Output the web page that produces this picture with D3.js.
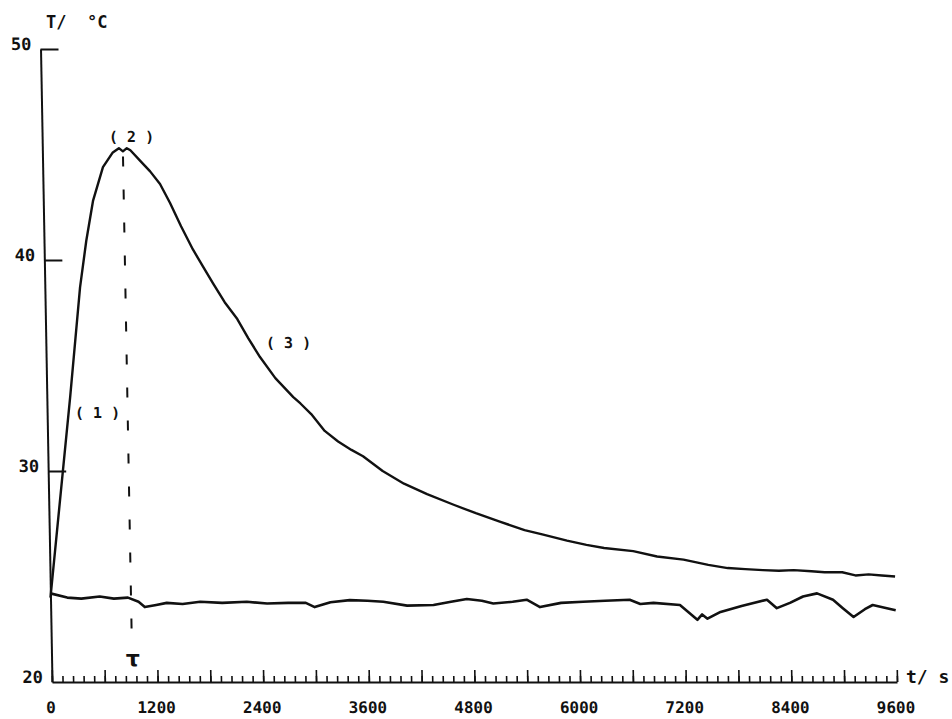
<!DOCTYPE html>
<html>
<head>
<meta charset="utf-8">
<script src="https://cdn.jsdelivr.net/npm/d3@7"></script>
<style>
  body { margin: 0; background: #fff; }
  text { fill: #111; }
</style>
</head>
<body>
<div id="chart"></div>
<script>
// upper curve: heating (1), peak (2), cooling (3)
let upperTime = [0, 170, 265, 400, 480, 565, 685, 800, 870, 915, 960, 1000, 1110, 1220, 1330, 1440, 1560, 1690, 1800, 1910, 2040, 2180, 2300, 2430, 2600, 2800, 2880, 3000, 3150, 3300, 3450, 3580, 3800, 4040, 4300, 4600, 4850, 5120, 5400, 5600, 5880, 6100, 6300, 6630, 6900, 7200, 7480, 7700, 7900, 8100, 8280, 8450, 8650, 8800, 9000, 9150, 9300, 9450, 9600];
let upperTemp = [24.0, 30.1, 33.5, 38.7, 40.9, 42.8, 44.4, 45.1, 45.3, 45.15, 45.3, 45.2, 44.7, 44.2, 43.6, 42.7, 41.6, 40.5, 39.7, 38.9, 38.0, 37.2, 36.3, 35.4, 34.4, 33.5, 33.2, 32.7, 31.9, 31.4, 31.0, 30.7, 30.0, 29.4, 28.9, 28.4, 28.0, 27.6, 27.2, 27.0, 26.7, 26.5, 26.35, 26.2, 25.95, 25.8, 25.55, 25.4, 25.35, 25.3, 25.27, 25.3, 25.25, 25.2, 25.2, 25.05, 25.1, 25.05, 25.0];

// lower curve: ambient
let lowerTime = [0, 190, 350, 560, 720, 880, 1000, 1070, 1200, 1320, 1500, 1700, 1950, 2230, 2460, 2700, 2900, 3000, 3180, 3400, 3600, 3780, 4050, 4350, 4550, 4730, 4900, 5030, 5250, 5410, 5560, 5800, 6050, 6300, 6580, 6700, 6850, 7150, 7345, 7400, 7460, 7610, 7850, 8140, 8250, 8400, 8550, 8710, 8890, 9000, 9120, 9250, 9340, 9500, 9600];
let lowerTemp = [24.2, 24.0, 23.95, 24.05, 23.95, 24.0, 23.8, 23.55, 23.65, 23.75, 23.7, 23.8, 23.75, 23.8, 23.72, 23.75, 23.75, 23.55, 23.78, 23.88, 23.85, 23.8, 23.62, 23.65, 23.8, 23.93, 23.85, 23.72, 23.8, 23.9, 23.55, 23.75, 23.8, 23.85, 23.9, 23.7, 23.75, 23.65, 22.95, 23.2, 23.0, 23.32, 23.6, 23.9, 23.5, 23.75, 24.05, 24.2, 23.9, 23.5, 23.08, 23.45, 23.65, 23.5, 23.4];

let xTickLabels = [0, 1200, 2400, 3600, 4800, 6000, 7200, 8400, 9600];
let yTickLabels = [20, 30, 40, 50];

let tau = 915;
let annoText = ["( 1 )", "( 2 )", "( 3 )"];
let annoTime = [573, 1016, 2757];
let annoTemp = [32.75, 45.83, 36.1];

let width = 952, height = 719;

let svg = d3.select("#chart").append("svg")
    .attr("width", width)
    .attr("height", height)
    .style("background", "#fff");

let x = d3.scaleLinear().domain([0, 9600]).range([52, 897]);
let y = d3.scaleLinear().domain([20, 50]).range([682, 49]);

// the scanned plot leans a little: skew everything about the time axis
let g = svg.append("g")
    .attr("transform", "translate(0," + y(20) + ") skewX(1.04) translate(0," + (-y(20)) + ")");

// x axis: minor ticks every 120 s, taller every 600 s
let xMinor = g.append("g")
    .attr("transform", "translate(0," + y(20) + ")")
    .call(d3.axisTop(x).tickValues(d3.range(0, 9601, 120)).tickSize(6).tickSizeOuter(0).tickFormat(""));
xMinor.select(".domain").attr("stroke", "#111").attr("stroke-width", 2);
xMinor.selectAll(".tick line").attr("stroke", "#111").attr("stroke-width", 1.6);

let xMajor = g.append("g")
    .attr("transform", "translate(0," + y(20) + ")")
    .call(d3.axisTop(x).tickValues(d3.range(0, 9601, 600)).tickSize(12).tickFormat(""));
xMajor.select(".domain").remove();
xMajor.selectAll(".tick line").attr("stroke", "#111").attr("stroke-width", 1.6);

let xLab = g.append("g")
    .attr("transform", "translate(0," + y(20) + ")")
    .call(d3.axisBottom(x).tickValues(xTickLabels).tickSize(0).tickPadding(20).tickFormat(d3.format("d")));
xLab.select(".domain").remove();
xLab.selectAll("text")
    .attr("x", -2)
    .style("font-family", "'DejaVu Sans Mono', monospace")
    .style("font-size", "16px")
    .style("font-weight", "bold")
    .style("fill", "#111");

// y axis
let yAx = g.append("g")
    .attr("transform", "translate(" + x(0) + ",0)")
    .call(d3.axisRight(y).tickValues([30, 40, 50]).tickSize(18).tickSizeOuter(0).tickFormat(""));
yAx.select(".domain").attr("stroke", "#111").attr("stroke-width", 2);
yAx.selectAll(".tick line").attr("stroke", "#111").attr("stroke-width", 1.8);

let yLab = g.append("g")
    .attr("transform", "translate(" + x(0) + ",0)")
    .call(d3.axisLeft(y).tickValues(yTickLabels).tickSize(0).tickPadding(9));
yLab.select(".domain").remove();
yLab.selectAll("text")
    .attr("y", -5)
    .style("font-family", "'DejaVu Sans Mono', monospace")
    .style("font-size", "17px")
    .style("font-weight", "bold")
    .style("fill", "#111");

// curves
let line = d3.line()
    .x(function (d) { return x(d[0]); })
    .y(function (d) { return y(d[1]); });

g.append("path")
    .datum(upperTime.map(function (t, i) { return [t, upperTemp[i]]; }))
    .attr("d", line)
    .attr("fill", "none")
    .attr("stroke", "#111")
    .attr("stroke-width", 2.4)
    .attr("stroke-linejoin", "round");

g.append("path")
    .datum(lowerTime.map(function (t, i) { return [t, lowerTemp[i]]; }))
    .attr("d", line)
    .attr("fill", "none")
    .attr("stroke", "#111")
    .attr("stroke-width", 2.6)
    .attr("stroke-linejoin", "round");

// dashed line at tau
g.append("line")
    .attr("x1", x(tau)).attr("x2", x(tau))
    .attr("y1", y(44.9)).attr("y2", y(21.9))
    .attr("stroke", "#111")
    .attr("stroke-width", 2)
    .attr("stroke-dasharray", "10,23");

g.append("text")
    .attr("x", x(925))
    .attr("y", y(21.14))
    .attr("dy", "0.35em")
    .attr("text-anchor", "middle")
    .style("font-family", "'DejaVu Sans', sans-serif")
    .style("font-size", "22px")
    .style("font-weight", "bold")
    .text("τ");

// (1) (2) (3)
g.selectAll(".anno")
    .data(annoText)
    .enter().append("text")
    .attr("class", "anno")
    .attr("x", function (d, i) { return x(annoTime[i]); })
    .attr("y", function (d, i) { return y(annoTemp[i]); })
    .attr("dy", "0.35em")
    .attr("text-anchor", "middle")
    .style("white-space", "pre")
    .style("font-family", "'DejaVu Sans Mono', monospace")
    .style("font-size", "15px")
    .style("font-weight", "bold")
    .text(function (d) { return d; });

// axis titles
svg.append("text")
    .attr("x", 46)
    .attr("y", 28)
    .style("white-space", "pre")
    .style("font-family", "'DejaVu Sans Mono', monospace")
    .style("font-size", "17px")
    .style("font-weight", "bold")
    .text("T/  °C");

svg.append("text")
    .attr("x", 906)
    .attr("y", 683)
    .style("white-space", "pre")
    .style("font-family", "'DejaVu Sans Mono', monospace")
    .style("font-size", "18px")
    .style("font-weight", "bold")
    .text("t/ s");
</script>
</body>
</html>
